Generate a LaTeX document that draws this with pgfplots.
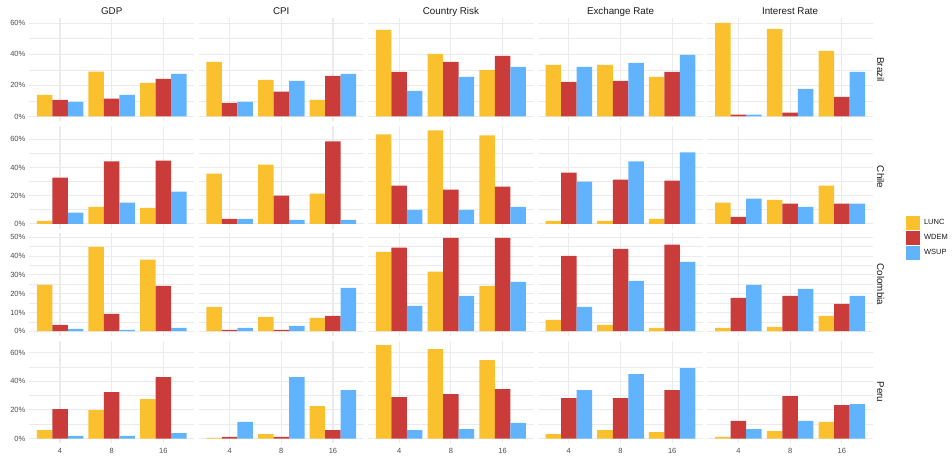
\documentclass[border=0pt]{standalone}
\usepackage{pgfplots}
\pgfplotsset{compat=1.18}
\usepackage{pgfplotstable}
\usepackage{fontspec}
\setmainfont{Liberation Sans}

\definecolor{cL}{RGB}{250,192,46}
\definecolor{cW}{RGB}{202,60,58}
\definecolor{cS}{RGB}{98,179,254}
\definecolor{gridc}{RGB}{235,235,235}
\definecolor{tickc}{RGB}{77,77,77}
\definecolor{stripc}{RGB}{26,26,26}

% columns: <indicator><L|W|S> for LUNC, WDEM, WSUP (percent); pos 1,2,3 = horizon 4, 8, 16
\pgfplotstableread{
pos gdpL gdpW gdpS cpiL cpiW cpiS crL crW crS erL erW erS irL irW irS
1 13.9 10.7 9.4  35.1 8.8 9.4   55.7 28.7 16.5 33.2 22.3 31.9 60.2 1.1 1.1
2 28.9 11.4 13.9 23.6 15.9 22.9 40.3 35.1 25.5 33.2 22.9 34.5 56.4 2.4 17.8
3 21.6 24.2 27.4 10.7 26.1 27.4 30.0 39.0 31.9 25.5 28.7 39.6 42.2 12.6 28.7
}\brazil
\pgfplotstableread{
pos gdpL gdpW gdpS cpiL cpiW cpiS crL crW crS erL erW erS irL irW irS
1 2.1 32.9 7.9   35.7 3.6 3.6   63.6 27.1 10.0 2.1 36.4 30.0 15.0 5.0 17.9
2 12.1 44.3 15.0 42.1 20.0 2.9 66.4 24.3 10.0 2.1 31.4 44.3 17.1 14.3 12.1
3 11.4 45.0 22.9 21.4 58.6 2.9 62.9 26.4 12.1 3.6 30.7 50.7 27.1 14.3 14.3
}\chile
\pgfplotstableread{
pos gdpL gdpW gdpS cpiL cpiW cpiS crL crW crS erL erW erS irL irW irS
1 24.7 3.4 1.2  13.0 0.7 1.8  42.3 44.5 13.5 6.0 40.2 13.0 1.8 17.8 24.7
2 45.0 9.3 0.7  7.6 0.7 2.8   31.7 49.8 18.9 3.4 43.9 26.9 2.3 18.9 22.6
3 38.1 24.2 1.8 7.1 8.2 23.1  24.2 49.8 26.3 1.8 46.1 37.0 8.2 14.6 18.9
}\colombia
\pgfplotstableread{
pos gdpL gdpW gdpS cpiL cpiW cpiS crL crW crS erL erW erS irL irW irS
1 6.0 20.6 1.9  0.5 1.2 11.6  65.1 29.0 6.0  3.2 28.3 33.8 1.2 12.3 6.7
2 19.9 32.4 1.9 3.2 1.2 42.9  62.3 31.0 6.7  6.0 28.3 44.9 5.3 29.7 12.3
3 27.6 42.9 3.9 22.7 6.0 33.8 54.7 34.5 10.9 4.6 33.8 49.1 11.6 23.4 24.1
}\peru

\pgfplotsset{
  bar/.style={ybar, draw=none, bar width=0.3,
    legend image code/.code={\fill[##1] (0pt,-7pt) rectangle (14pt,7pt);}},
  barL/.style={bar, fill=cL, bar shift=-0.3},
  barW/.style={bar, fill=cW, bar shift=0},
  barS/.style={bar, fill=cS, bar shift=0.3},
  panel/.style={
    scale only axis, width=165.4pt, height=102.8pt, anchor=north west,
    xmin=0.4, xmax=3.6, xtick={1,2,3}, xticklabels={},
    axis line style={draw=none}, major tick length=0pt, minor tick length=0pt,
    xmajorgrids, ymajorgrids, yminorgrids,
    major grid style={line width=1.1pt, gridc},
    minor grid style={line width=0.6pt, gridc},
    /pgf/number format/assume math mode=true,
    ticklabel style={font=\fontsize{7.5}{8}\selectfont, text=tickc, inner sep=0pt},
    yticklabel style={anchor=east, xshift=-3.5pt},
    xticklabel style={anchor=north, yshift=-5pt},
    every axis title/.style={at={(0.5,1)}, anchor=base, yshift=4.3pt, inner sep=0pt,
      font=\fontsize{9.8}{11}\selectfont, text=stripc},
  },
  rowA/.style={ymin=-3.01, ymax=63.2, ytick={0,20,40,60}, minor ytick={10,30,50},
    yticklabels={0\%,20\%,40\%,60\%}},
  rowB/.style={ymin=-3.32, ymax=69.72, ytick={0,20,40,60}, minor ytick={10,30,50},
    yticklabels={0\%,20\%,40\%,60\%}},
  rowC/.style={ymin=-2.49, ymax=52.29, ytick={0,10,20,30,40,50},
    minor ytick={5,15,25,35,45}, yticklabels={0\%,10\%,20\%,30\%,40\%,50\%}},
  rowD/.style={ymin=-3.26, ymax=68.36, ytick={0,20,40,60}, minor ytick={10,30,50},
    yticklabels={0\%,20\%,40\%,60\%}},
  noy/.style={yticklabels={}},
  bottom/.style={xticklabels={4,8,16}},
  strip/.style={after end axis/.code={
    \node[rotate=-90, inner sep=0pt, font=\fontsize{9.8}{11}\selectfont, text=stripc]
      at ([xshift=7.7pt]rel axis cs:1,0.5) {#1};}},
}

% one facet: x, y of the top-left corner, table, indicator, extra options
\newcommand{\panel}[5]{%
  \begin{axis}[panel, at={(#1,#2)}, #5]
    \addplot[barL] table[x=pos, y=#4L] {#3};
    \addplot[barW] table[x=pos, y=#4W] {#3};
    \addplot[barS] table[x=pos, y=#4S] {#3};
  \end{axis}}

\begin{document}
\begin{tikzpicture}
\useasboundingbox (0pt,0pt) rectangle (952pt,-459pt);

% Brazil
\panel{29pt}{-18.3pt}{\brazil}{gdp}{rowA, title=GDP}
\panel{198.6pt}{-18.3pt}{\brazil}{cpi}{rowA, noy, title=CPI}
\panel{368.2pt}{-18.3pt}{\brazil}{cr}{rowA, noy, title=Country Risk}
\panel{537.8pt}{-18.3pt}{\brazil}{er}{rowA, noy, title=Exchange Rate}
\panel{707.4pt}{-18.3pt}{\brazil}{ir}{rowA, noy, title=Interest Rate, strip=Brazil}

% Chile
\panel{29pt}{-125.7pt}{\chile}{gdp}{rowB}
\panel{198.6pt}{-125.7pt}{\chile}{cpi}{rowB, noy}
\panel{368.2pt}{-125.7pt}{\chile}{cr}{rowB, noy}
\panel{537.8pt}{-125.7pt}{\chile}{er}{rowB, noy}
\panel{707.4pt}{-125.7pt}{\chile}{ir}{rowB, noy, strip=Chile,
  legend entries={LUNC,WDEM,WSUP},
  legend cell align=left,
  legend style={at={(1.2007,0.1216)}, anchor=north west, draw=none, fill=none,
    inner sep=0pt, outer sep=0pt, row sep=0.8pt, column sep=4pt,
    font=\fontsize{7.5}{8}\selectfont, text=stripc,
    nodes={inner sep=0pt}}}

% Colombia
\panel{29pt}{-233.1pt}{\colombia}{gdp}{rowC}
\panel{198.6pt}{-233.1pt}{\colombia}{cpi}{rowC, noy}
\panel{368.2pt}{-233.1pt}{\colombia}{cr}{rowC, noy}
\panel{537.8pt}{-233.1pt}{\colombia}{er}{rowC, noy}
\panel{707.4pt}{-233.1pt}{\colombia}{ir}{rowC, noy, strip=Colombia}

% Peru
\panel{29pt}{-340.5pt}{\peru}{gdp}{rowD, bottom}
\panel{198.6pt}{-340.5pt}{\peru}{cpi}{rowD, noy, bottom}
\panel{368.2pt}{-340.5pt}{\peru}{cr}{rowD, noy, bottom}
\panel{537.8pt}{-340.5pt}{\peru}{er}{rowD, noy, bottom}
\panel{707.4pt}{-340.5pt}{\peru}{ir}{rowD, noy, bottom, strip=Peru}
\end{tikzpicture}
\end{document}
